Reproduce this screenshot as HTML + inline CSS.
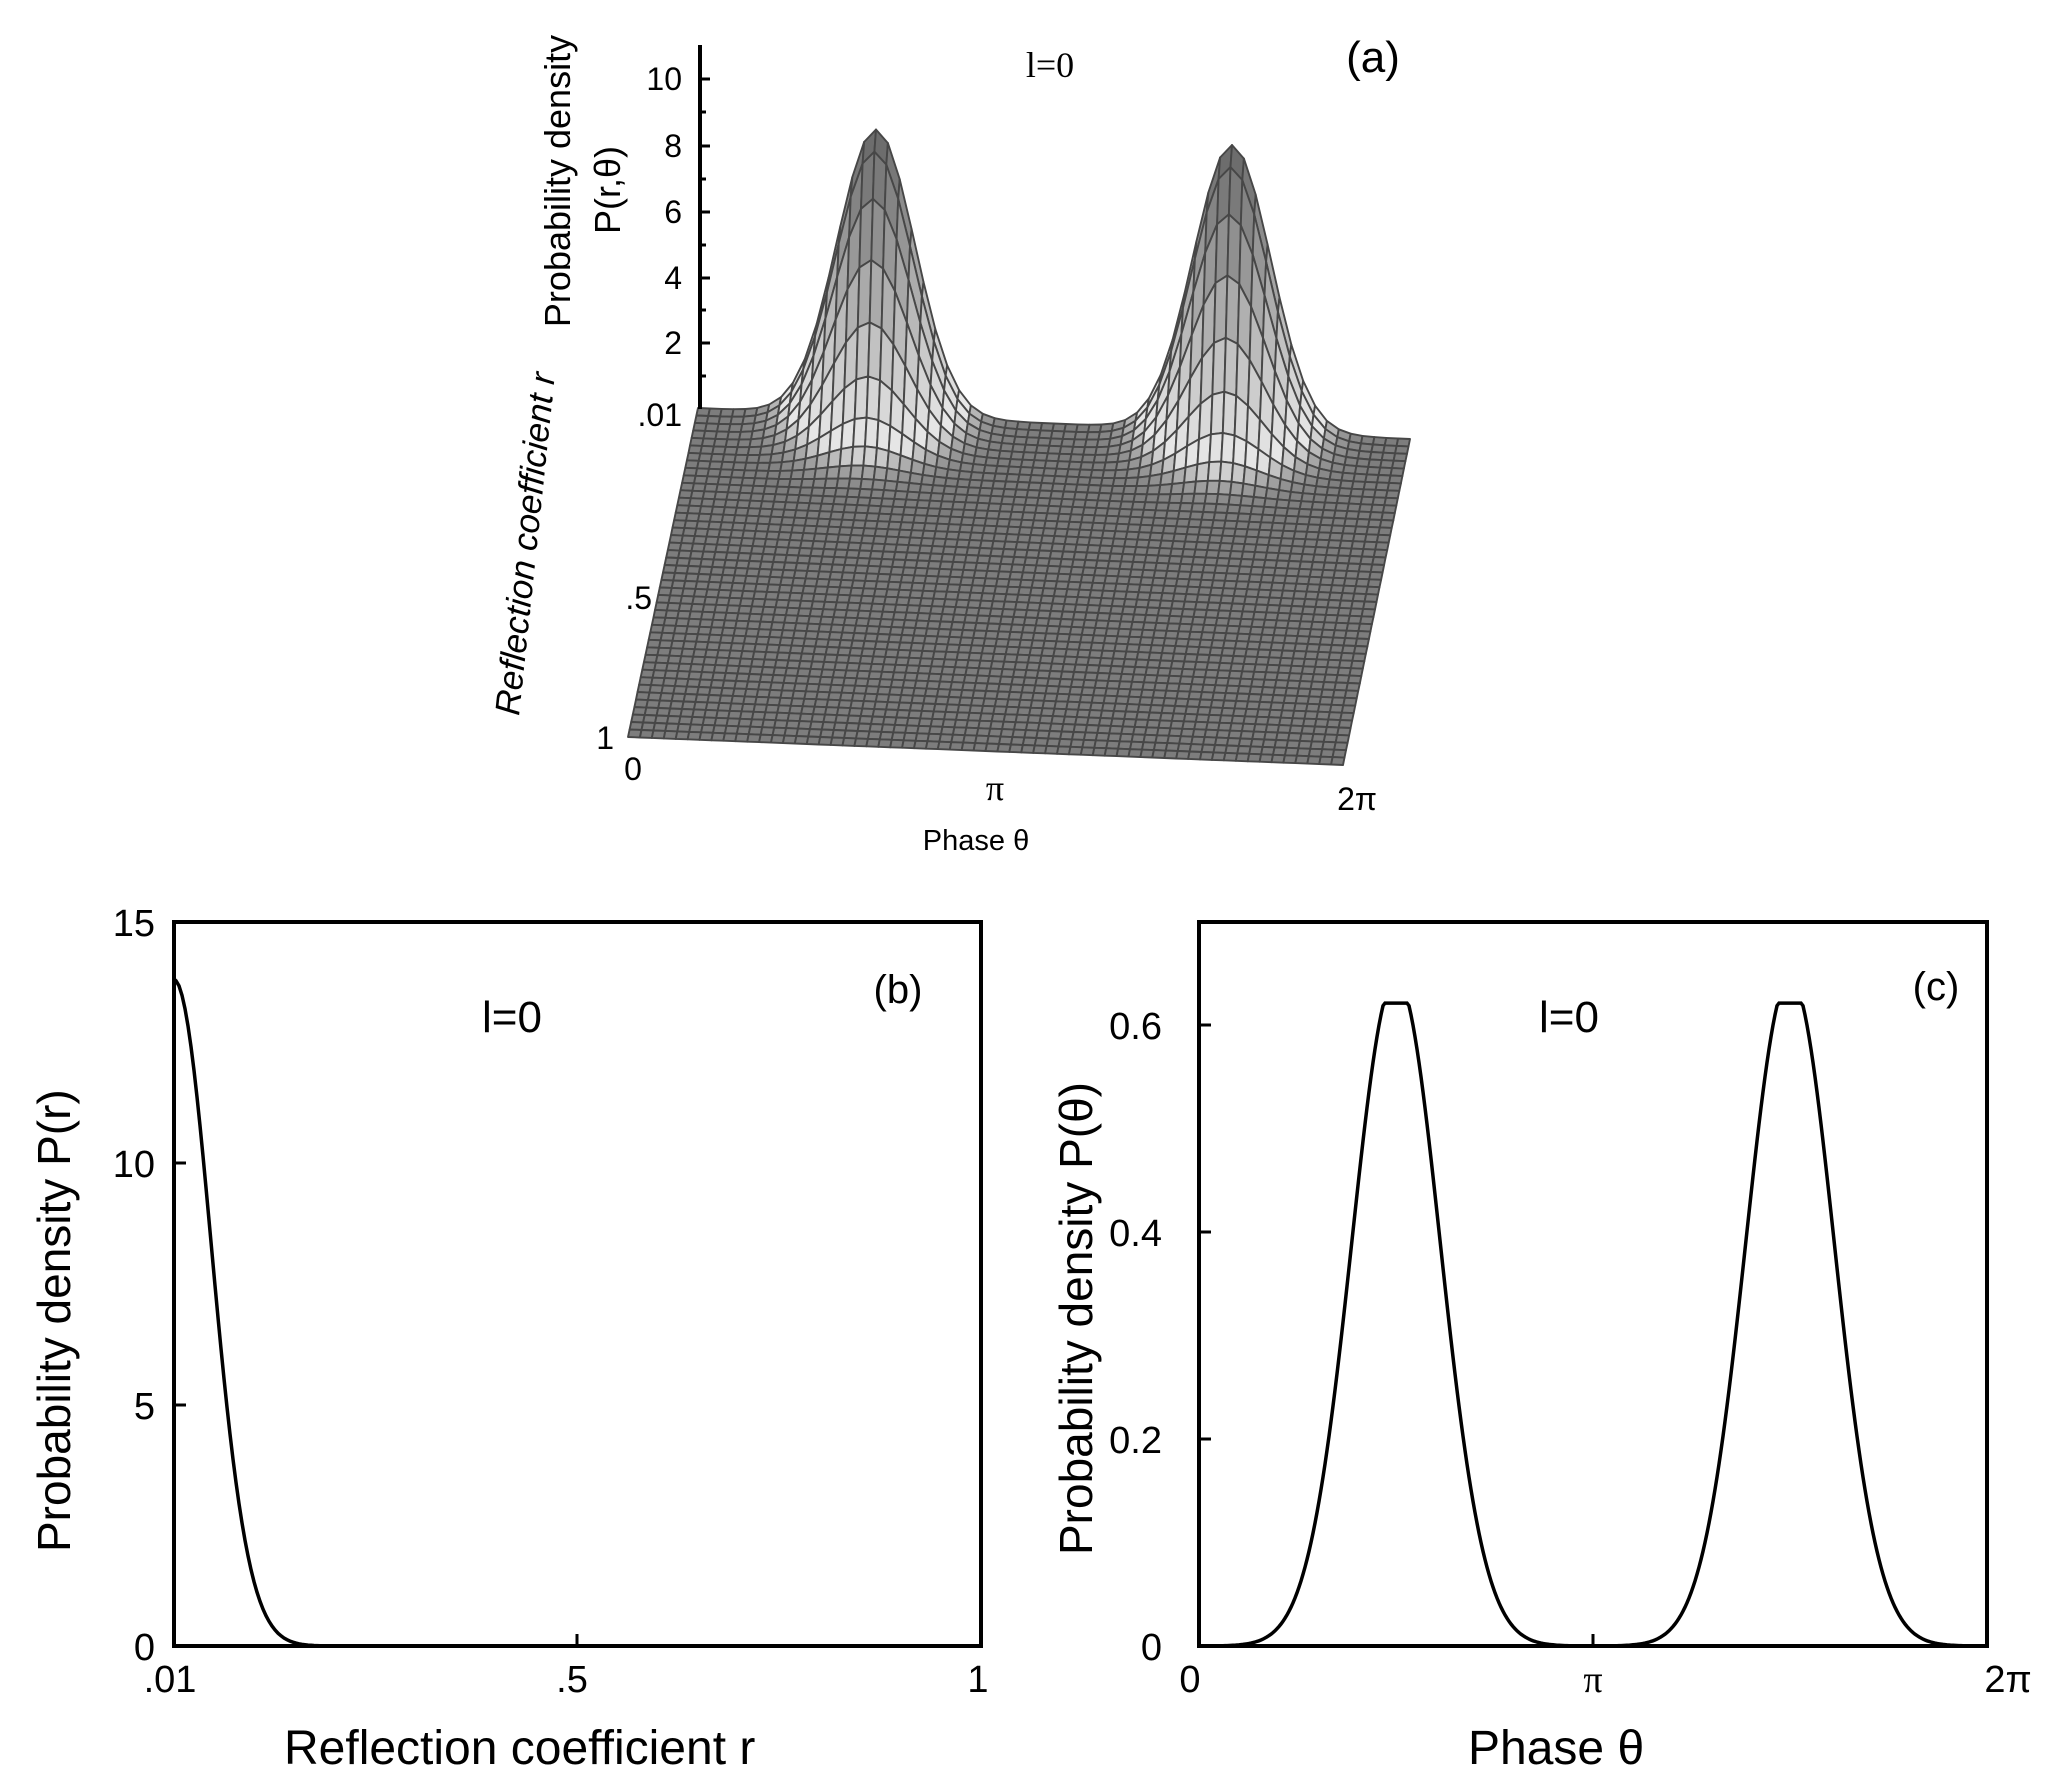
<!DOCTYPE html>
<html><head><meta charset="utf-8"><style>
html,body{margin:0;padding:0;background:#fff;}
svg{display:block;}
text{font-family:"Liberation Sans",sans-serif;fill:#000;}
</style></head><body>
<svg id="s" width="2047" height="1790" viewBox="0 0 2047 1790" xmlns="http://www.w3.org/2000/svg">
<g id="surf"></g>
<line x1="700" y1="45" x2="700" y2="409" stroke="#000" stroke-width="4"/>
<g stroke="#000" stroke-width="3">
<line x1="700" y1="79" x2="710" y2="79"/><line x1="700" y1="146" x2="710" y2="146"/><line x1="700" y1="212" x2="710" y2="212"/><line x1="700" y1="278" x2="710" y2="278"/><line x1="700" y1="343" x2="710" y2="343"/>
<line x1="700" y1="112" x2="706" y2="112"/><line x1="700" y1="179" x2="706" y2="179"/><line x1="700" y1="245" x2="706" y2="245"/><line x1="700" y1="310" x2="706" y2="310"/><line x1="700" y1="376" x2="706" y2="376"/>
</g>
<g font-size="32" text-anchor="end">
<text x="682" y="90">10</text><text x="682" y="157">8</text><text x="682" y="223">6</text><text x="682" y="289">4</text><text x="682" y="354">2</text><text x="682" y="426">.01</text>
<text x="652" y="609">.5</text><text x="614" y="749">1</text>
</g>
<text font-size="36" text-anchor="middle" transform="translate(570,181) rotate(-90)">Probability density</text>
<text font-size="36" text-anchor="middle" transform="translate(620,190) rotate(-90)">P(r,θ)</text>
<text font-size="35" font-style="italic" text-anchor="middle" transform="translate(537,545) rotate(-84)">Reflection coefficient  r</text>
<text font-size="32" x="633" y="780" text-anchor="middle">0</text>
<text font-size="36" x="995" y="800" text-anchor="middle" style="font-family:'Liberation Serif',serif">π</text>
<text font-size="32" x="1357" y="810" text-anchor="middle">2π</text>
<text font-size="29" x="976" y="850" text-anchor="middle">Phase θ</text>
<text font-size="36" x="1050" y="77" text-anchor="middle" style="font-family:'Liberation Serif',serif">l=0</text>
<text font-size="44" x="1373" y="72" text-anchor="middle">(a)</text>

<rect x="174" y="922" width="807" height="724" fill="none" stroke="#000" stroke-width="4"/>
<g stroke="#000" stroke-width="3">
<line x1="174" y1="1163" x2="186" y2="1163"/><line x1="174" y1="1405" x2="186" y2="1405"/>
<line x1="577" y1="1646" x2="577" y2="1634"/>
</g>
<path id="pb" fill="none" stroke="#000" stroke-width="3.5"/>
<g font-size="38" text-anchor="end">
<text x="155" y="936">15</text><text x="155" y="1177">10</text><text x="155" y="1419">5</text><text x="155" y="1660">0</text>
</g>
<g font-size="38" text-anchor="middle">
<text x="170" y="1692">.01</text><text x="572" y="1692">.5</text><text x="978" y="1692">1</text>
</g>
<text font-size="48" x="284" y="1764">Reflection coefficient  r</text>
<text font-size="46" transform="translate(70,1552) rotate(-90)">Probability density  P(r)</text>
<text font-size="44" x="482" y="1032">l=0</text>
<text font-size="40" x="898" y="1003" text-anchor="middle">(b)</text>

<rect x="1199" y="922" width="788" height="724" fill="none" stroke="#000" stroke-width="4"/>
<g stroke="#000" stroke-width="3">
<line x1="1199" y1="1439" x2="1211" y2="1439"/><line x1="1199" y1="1232" x2="1211" y2="1232"/><line x1="1199" y1="1025" x2="1211" y2="1025"/>
<line x1="1593" y1="1646" x2="1593" y2="1634"/>
</g>
<path id="pc" fill="none" stroke="#000" stroke-width="3.5"/>
<g font-size="38" text-anchor="end">
<text x="1162" y="1039">0.6</text><text x="1162" y="1246">0.4</text><text x="1162" y="1453">0.2</text><text x="1162" y="1660">0</text>
</g>
<g font-size="38" text-anchor="middle">
<text x="1190" y="1692">0</text><text x="1593" y="1692" style="font-family:'Liberation Serif',serif">π</text><text x="2008" y="1692">2π</text>
</g>
<text font-size="48" x="1468" y="1764">Phase θ</text>
<text font-size="46" transform="translate(1092,1555) rotate(-90)">Probability density  P(θ)</text>
<text font-size="44" x="1539" y="1032">l=0</text>
<text font-size="40" x="1936" y="1000" text-anchor="middle">(c)</text>
</svg>
<script>
(function(){
var d="M174,979";
for(var x=176;x<=981;x+=3){var dd=x-174;var v=13.8*Math.exp(-dd*dd/(2*37*37));d+=" L"+x+","+(1646-v*48.27).toFixed(1);}
document.getElementById("pb").setAttribute("d",d);
var d2="";
for(var x=1199;x<=1987;x+=2){var v=0;[1396,1790].forEach(function(c){var dd=x-c;v+=0.645*Math.exp(-dd*dd/(2*44*44));});v=Math.min(v,0.62);d2+=(d2?" L":"M")+x+","+(1646-v*1037).toFixed(1);}
document.getElementById("pc").setAttribute("d",d2);
var BL=[698,408],BR=[1410,439],FL=[628,737],FR=[1343,765];
var NT=60,NR=44,K=32.9;
function P(t,u,z){var x=(1-t)*(1-u)*BL[0]+t*(1-u)*BR[0]+(1-t)*u*FL[0]+t*u*FR[0];var y=(1-t)*(1-u)*BL[1]+t*(1-u)*BR[1]+(1-t)*u*FL[1]+t*u*FR[1];return [x,y-z*K];}
function Z(t,u){var s=0.0546;var a=Math.exp(-Math.pow(t-0.25,2)/(2*s*s))+Math.exp(-Math.pow(t-0.75,2)/(2*s*s));return 8.7*a*Math.exp(-u*u/(2*0.07*0.07));}
var g=document.getElementById("surf");var html="";
for(var j=0;j<NR;j++){for(var i=0;i<NT;i++){
var t0=i/NT,t1=(i+1)/NT,u0=j/NR,u1=(j+1)/NR;
var z00=Z(t0,u0),z10=Z(t1,u0),z11=Z(t1,u1),z01=Z(t0,u1);
var a=P(t0,u0,z00),b=P(t1,u0,z10),c=P(t1,u1,z11),e=P(t0,u1,z01);
var zm=(z00+z10+z11+z01)/4;
var f=Math.min(zm/0.6,1);var gv=125+f*(232-125);
if(zm>0.6){gv=232-Math.min((zm-0.6)/8.1,1)*130;}
gv=Math.round(gv);var col="rgb("+gv+","+gv+","+gv+")";
html+='<polygon points="'+a[0].toFixed(1)+','+a[1].toFixed(1)+' '+b[0].toFixed(1)+','+b[1].toFixed(1)+' '+c[0].toFixed(1)+','+c[1].toFixed(1)+' '+e[0].toFixed(1)+','+e[1].toFixed(1)+'" fill="'+col+'" stroke="#474747" stroke-width="1.9" stroke-linejoin="round"/>';
}}
g.innerHTML=html;
})();
</script>
</body></html>
